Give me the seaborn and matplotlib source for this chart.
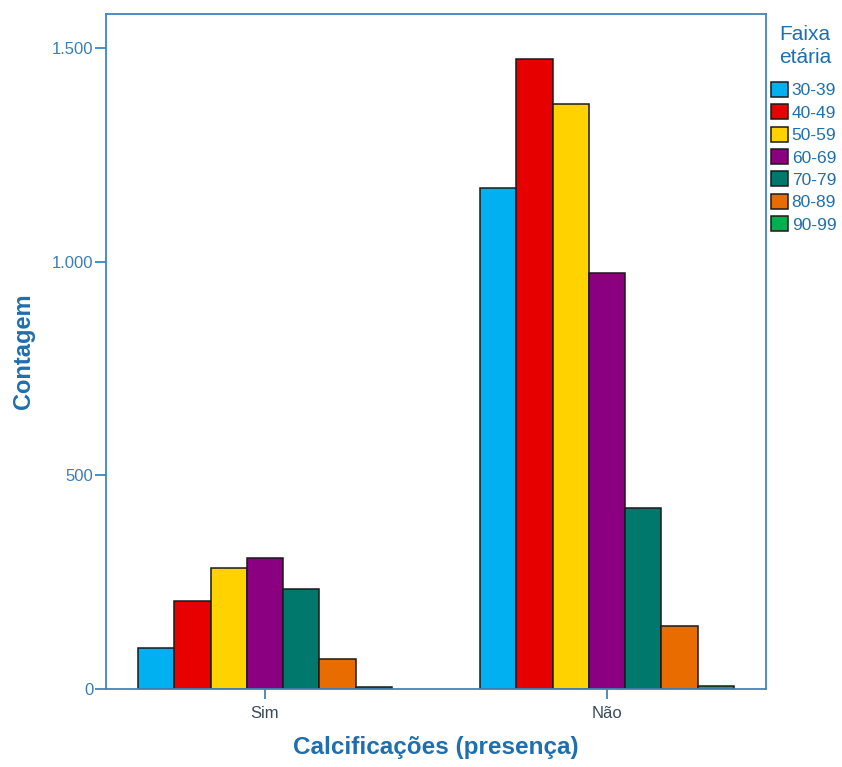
"""Contagem de calcificações por faixa etária (barras agrupadas)."""

import matplotlib

matplotlib.use("Agg")
import matplotlib.pyplot as plt
import pandas as pd
import seaborn as sns
from matplotlib.ticker import FuncFormatter

categories = ["Sim", "Não"]
age_groups = ["30-39", "40-49", "50-59", "60-69", "70-79", "80-89", "90-99"]
counts_sim = [97, 206, 283, 307, 233, 70, 4]
counts_nao = [1172, 1474, 1369, 973, 424, 147, 6]
colors = ["#00B0F0", "#E60000", "#FFD200", "#8B0080", "#00786C", "#E86C00", "#00B050"]

BLUE = "#1F6FAE"
FRAME = "#3D85C0"

rows = []
for cat, values in zip(categories, [counts_sim, counts_nao]):
    for age, value in zip(age_groups, values):
        rows.append({"cat": cat, "age": age, "count": value})
df = pd.DataFrame(rows)

sns.set_style("white")
plt.rcParams["font.family"] = ["Liberation Sans", "DejaVu Sans"]

fig = plt.figure(figsize=(8.42, 7.67), dpi=100)
ax = fig.add_axes([0.1259, 0.1017, 0.7838, 0.88])

sns.barplot(
    data=df,
    x="cat",
    y="count",
    hue="age",
    order=categories,
    hue_order=age_groups,
    palette=colors,
    width=0.743,
    edgecolor="#1a1a1a",
    linewidth=1.1,
    saturation=1,
    ax=ax,
)

ax.set_xlim(-0.465, 1.465)
ax.set_ylim(0, 1580)
ax.set_yticks([0, 500, 1000, 1500])
ax.yaxis.set_major_formatter(FuncFormatter(lambda v, _: f"{int(v):,}".replace(",", ".")))

for spine in ax.spines.values():
    spine.set_color(FRAME)
    spine.set_linewidth(1.3)

ax.tick_params(axis="y", left=True, direction="out", length=8, width=1.3, color=FRAME,
               labelcolor="#3A7DB8", labelsize=12, pad=1)
ax.tick_params(axis="x", bottom=True, direction="out", length=7, width=1.3, color=FRAME,
               labelcolor="#3c4a5a", labelsize=12, pad=5)
ax.set_xlabel("Calcificações (presença)", fontsize=17.5, fontweight="bold",
              color=BLUE, labelpad=11)
ax.set_ylabel("Contagem", fontsize=17, fontweight="bold", color=BLUE, labelpad=12)

handles, labels = ax.get_legend_handles_labels()
ax.get_legend().remove()
leg = fig.legend(
    handles,
    labels,
    loc="upper left",
    bbox_to_anchor=(0.9155, 1 - 82 / 767),
    frameon=False,
    fontsize=12.5,
    handlelength=1.0,
    handleheight=0.95,
    handletextpad=0.2,
    labelspacing=0.34,
    borderaxespad=0,
    borderpad=0,
)
for text in leg.get_texts():
    text.set_color(BLUE)
fig.text(805 / 842, 1 - 46 / 767, "Faixa\netária", ha="center", va="center",
         fontsize=15, color=BLUE, linespacing=1.25)

fig.savefig("out.png", dpi=100)
